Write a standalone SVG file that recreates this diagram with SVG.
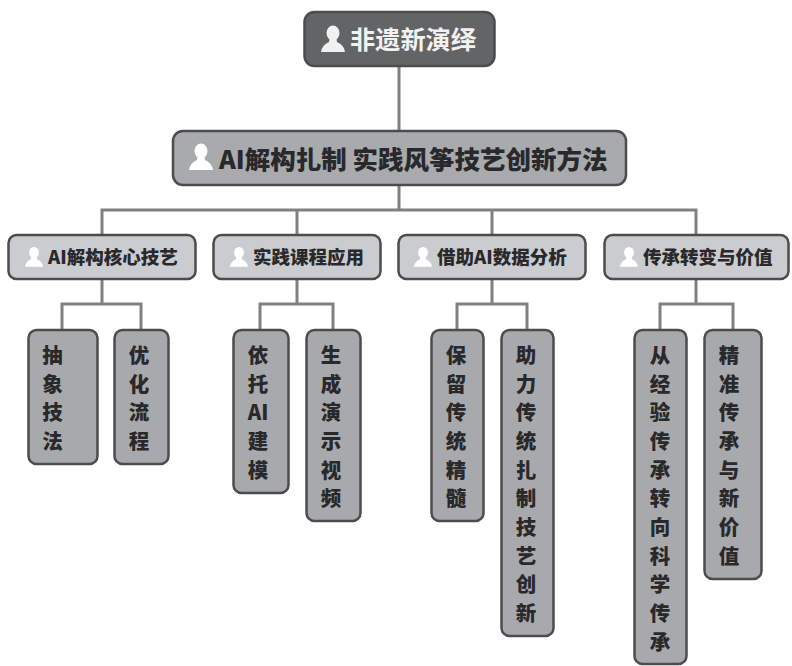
<svg xmlns="http://www.w3.org/2000/svg" width="792" height="666" viewBox="0 0 792 666">
<defs>
<g id="p"><ellipse cx="0" cy="-6" rx="6.500" ry="7.500"/><path d="M-3.500 0 L3.500 0 L4 3 Q11 6 12 13 L-12 13 Q-11 6 -4 3Z"/></g>
</defs>
<style>
text{font-family:"Noto Sans CJK SC","Liberation Sans",sans-serif;font-weight:900;fill:#29292b}
.b{stroke:#4c4c4e;stroke-width:2.5}
.c path{fill:none;stroke:#808082;stroke-width:3}
.l{fill:#a8a9ac}
.v{font-size:20.500px;text-anchor:middle}
.m{font-size:18.500px}
</style>
<rect width="792" height="666" fill="#fff"/>
<g class="c" id="connectors">
<path d="M399 66V131M399 185V210M102 235V210H696V235M297 210V235M492 210V235"/>
<path d="M102 279V304M62 330V304H141V330"/>
<path d="M297 279V304M260 330V304H333V330"/>
<path d="M492 279V304M457 330V304H527V330"/>
<path d="M696 279V304M660 330V304H733V330"/>
</g>
<g id="root"><rect class="b" x="304.500" y="12" width="190" height="54" rx="10" fill="#636466"/><use href="#p" x="333" y="39" fill="#f1f1f1"/><text x="350" y="49" style="font-size:25.200px;fill:#f1f1f1;font-weight:700">非遗新演绎</text></g>
<g id="main"><rect class="b" x="173" y="131" width="453" height="54" rx="10" fill="#a9aaad"/><use href="#p" x="201" y="157" fill="#fff"/><text x="219" y="169" style="font-size:25.500px">AI解构扎制 实践风筝技艺创新方法</text></g>
<g id="n1"><rect class="b" x="8.500" y="235" width="187" height="44" rx="8" fill="#cbcccf"/><use href="#p" x="34" y="257" fill="#fff" transform="translate(34 257) scale(.75) translate(-34 -257)"/><text class="m" x="48" y="264">AI解构核心技艺</text></g>
<g id="n2"><rect class="b" x="213.500" y="235" width="167" height="44" rx="8" fill="#cbcccf"/><use href="#p" x="239" y="257" fill="#fff" transform="translate(239 257) scale(.75) translate(-239 -257)"/><text class="m" x="253" y="264">实践课程应用</text></g>
<g id="n3"><rect class="b" x="398.500" y="235" width="187" height="44" rx="8" fill="#cbcccf"/><use href="#p" x="423" y="257" fill="#fff" transform="translate(423 257) scale(.75) translate(-423 -257)"/><text class="m" x="437" y="264">借助AI数据分析</text></g>
<g id="n4"><rect class="b" x="604.500" y="235" width="184" height="44" rx="8" fill="#cbcccf"/><use href="#p" x="629" y="257" fill="#fff" transform="translate(629 257) scale(.75) translate(-629 -257)"/><text class="m" x="643" y="264">传承转变与价值</text></g>
<g id="l1"><rect class="b l" x="28.500" y="330" width="69" height="134" rx="8"/><text class="v"><tspan x="52.500" y="363">抽</tspan><tspan x="52.500" y="392">象</tspan><tspan x="52.500" y="420">技</tspan><tspan x="52.500" y="449">法</tspan></text></g>
<g id="l2"><rect class="b l" x="114.500" y="330" width="54" height="134" rx="8"/><text class="v"><tspan x="139" y="363">优</tspan><tspan x="139" y="392">化</tspan><tspan x="139" y="420">流</tspan><tspan x="139" y="449">程</tspan></text></g>
<g id="l3"><rect class="b l" x="233.500" y="330" width="55" height="163" rx="8"/><text class="v"><tspan x="258" y="363">依</tspan><tspan x="258" y="392">托</tspan><tspan x="258" y="420">AI</tspan><tspan x="258" y="449">建</tspan><tspan x="258" y="478">模</tspan></text></g>
<g id="l4"><rect class="b l" x="306.500" y="330" width="54" height="191" rx="8"/><text class="v"><tspan x="331" y="363">生</tspan><tspan x="331" y="392">成</tspan><tspan x="331" y="420">演</tspan><tspan x="331" y="449">示</tspan><tspan x="331" y="478">视</tspan><tspan x="331" y="506">频</tspan></text></g>
<g id="l5"><rect class="b l" x="431.500" y="330" width="52" height="191" rx="8"/><text class="v"><tspan x="456" y="363">保</tspan><tspan x="456" y="392">留</tspan><tspan x="456" y="420">传</tspan><tspan x="456" y="449">统</tspan><tspan x="456" y="478">精</tspan><tspan x="456" y="506">髓</tspan></text></g>
<g id="l6"><rect class="b l" x="501.500" y="330" width="52" height="306" rx="8"/><text class="v"><tspan x="526" y="363">助</tspan><tspan x="526" y="392">力</tspan><tspan x="526" y="420">传</tspan><tspan x="526" y="449">统</tspan><tspan x="526" y="478">扎</tspan><tspan x="526" y="506">制</tspan><tspan x="526" y="535">技</tspan><tspan x="526" y="564">艺</tspan><tspan x="526" y="592">创</tspan><tspan x="526" y="621">新</tspan></text></g>
<g id="l7"><rect class="b l" x="634.500" y="330" width="52" height="334" rx="8"/><text class="v"><tspan x="660" y="363">从</tspan><tspan x="660" y="392">经</tspan><tspan x="660" y="420">验</tspan><tspan x="660" y="449">传</tspan><tspan x="660" y="478">承</tspan><tspan x="660" y="506">转</tspan><tspan x="660" y="535">向</tspan><tspan x="660" y="564">科</tspan><tspan x="660" y="592">学</tspan><tspan x="660" y="621">传</tspan><tspan x="660" y="650">承</tspan></text></g>
<g id="l8"><rect class="b l" x="704.500" y="330" width="57" height="249" rx="8"/><text class="v"><tspan x="729" y="363">精</tspan><tspan x="729" y="392">准</tspan><tspan x="729" y="420">传</tspan><tspan x="729" y="449">承</tspan><tspan x="729" y="478">与</tspan><tspan x="729" y="506">新</tspan><tspan x="729" y="535">价</tspan><tspan x="729" y="564">值</tspan></text></g>
</svg>
